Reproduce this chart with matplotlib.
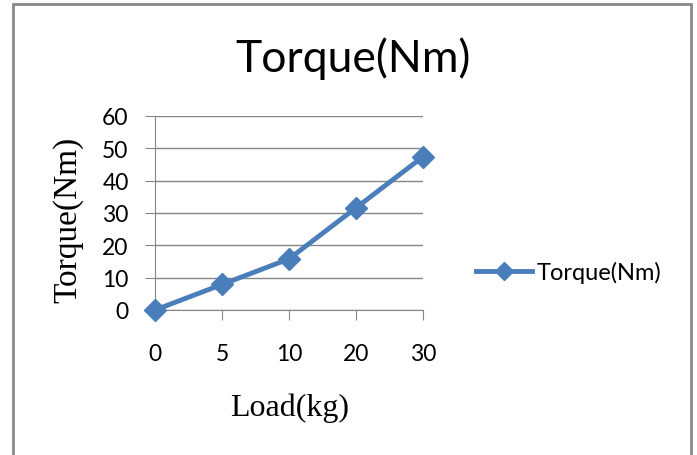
import matplotlib
matplotlib.use("Agg")
import matplotlib.pyplot as plt
from matplotlib.patches import Rectangle

# data
loads = ["0", "5", "10", "20", "30"]
torque = [0, 7.9, 15.8, 31.6, 47.4]
y_ticks = [0, 10, 20, 30, 40, 50, 60]

blue = "#4a7ebb"
grid_gray = "#868686"

fig = plt.figure(figsize=(6.97, 4.56), dpi=100)
W, H = 697, 456

# outer chart border
fig.patches.append(Rectangle((13 / W, -0.05), (691 - 13) / W, 1.05 - 5 / H,
                             transform=fig.transFigure, fill=False,
                             edgecolor="#888888", linewidth=2))

ax = fig.add_axes([155 / W, 1 - 311 / H, (423 - 155) / W, (311 - 117) / H])
x = list(range(len(loads)))
ax.plot(x, torque, color=blue, linewidth=3.5, marker="D", markersize=11,
        label="Torque(Nm)", clip_on=False, zorder=3)

ax.set_xlim(0, len(loads) - 1)
ax.set_ylim(0, 60)
ax.set_xticks(x)
ax.set_xticklabels(loads)
ax.set_yticks(y_ticks)
ax.grid(axis="y", color=grid_gray, linewidth=1)
ax.set_axisbelow(True)
for s in ["top", "right"]:
    ax.spines[s].set_visible(False)
for s in ["left", "bottom"]:
    ax.spines[s].set_color(grid_gray)
ax.tick_params(axis="x", length=7, color=grid_gray, pad=17)
ax.tick_params(axis="y", length=7, color=grid_gray, pad=12)
for lab in ax.get_xticklabels() + ax.get_yticklabels():
    lab.set_fontfamily("Lato")
    lab.set_fontsize(16.5)

fig.text(353 / W, 1 - 72 / H, "Torque(Nm)", ha="center", va="baseline",
         fontsize=32, family="Lato")
fig.text(68 / W, 1 - 220 / H, "Torque(Nm)", ha="center", va="center",
         rotation=90, fontsize=24, family="Liberation Serif")
fig.text(290 / W, 1 - 408 / H, "Load(kg)", ha="center", va="center",
         fontsize=23, family="Liberation Serif")

ax.legend(loc="center left", bbox_to_anchor=(455 / W, 1 - 273 / H),
          bbox_transform=fig.transFigure, frameon=False, handlelength=2.35,
          handletextpad=0.2, markerscale=0.8,
          prop={"family": "Lato", "size": 17})

fig.savefig("out.png", dpi=100)
